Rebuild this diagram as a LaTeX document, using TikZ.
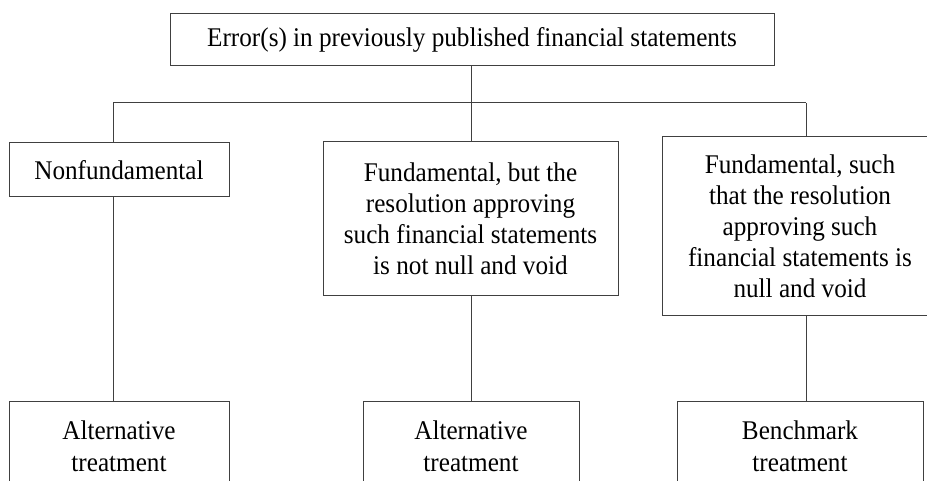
\documentclass[tikz,border=0pt]{standalone}
\usepackage{fontspec}
\setmainfont{Liberation Serif}[FakeStretch=0.933]
\begin{document}
\begin{tikzpicture}[x=1pt,y=-1pt,
  box/.style={draw=black!75, line width=1pt, align=center, inner sep=0pt,
    font=\fontsize{27}{31}\selectfont},
  lowbox/.style={box, anchor=north, inner ysep=15.6pt, minimum height=90,
    font=\fontsize{27}{32.5}\selectfont},
  link/.style={draw=black!75, line width=1pt}]
\useasboundingbox (0,0) rectangle (927,481);
\clip (0,0) rectangle (927,481);
% boxes
\node[box, minimum width=604, minimum height=52] (top) at (472,40)
  {Error(s) in previously published financial statements};
\node[box, minimum width=220, minimum height=54] (nf) at (119,170)
  {Nonfundamental};
\node[box, minimum width=295, minimum height=154] (fb) at (470.5,219)
  {Fundamental, but the\\resolution approving\\such financial statements\\is not null and void};
\node[box, minimum width=276, minimum height=179] (fs) at (800,226.5)
  {Fundamental, such\\that the resolution\\approving such\\financial statements is\\null and void};
\node[lowbox, minimum width=220] (alt1) at (119,401) {Alternative\\treatment};
\node[lowbox, minimum width=216] (alt2) at (471,401) {Alternative\\treatment};
\node[lowbox, minimum width=246] (bm) at (800,401) {Benchmark\\treatment};
% branch coordinates
\coordinate (bl) at (113,103);
\coordinate (bc) at (471,103);
\coordinate (br) at (806,103);
% connectors
\draw[link] (top.south -| bc) -- (bc);
\draw[link] (bl) -- (br);
\draw[link] (bl) -- (bl |- nf.north);
\draw[link] (bc) -- (bc |- fb.north);
\draw[link] (br) -- (br |- fs.north);
\draw[link] (bl |- nf.south) -- (bl |- alt1.north);
\draw[link] (bc |- fb.south) -- (bc |- alt2.north);
\draw[link] (br |- fs.south) -- (br |- bm.north);
\end{tikzpicture}
\end{document}
